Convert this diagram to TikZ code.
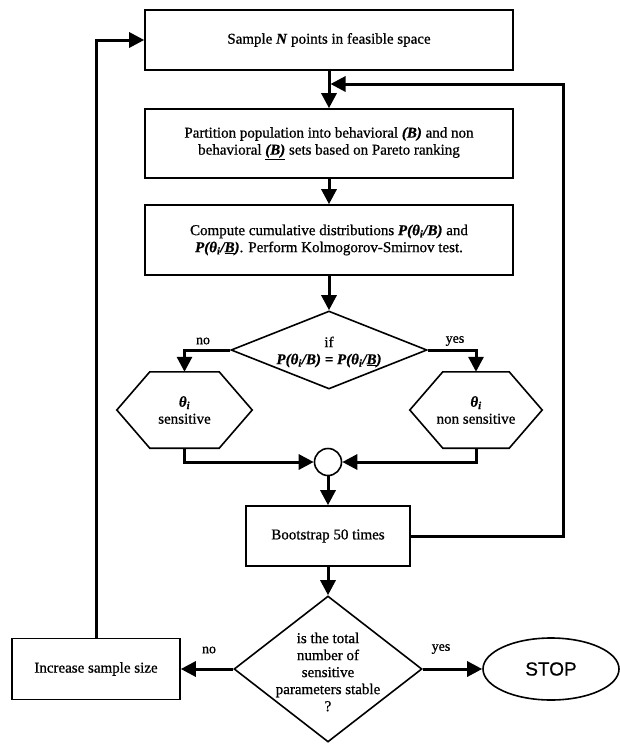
\documentclass[tikz,border=0pt]{standalone}
\usepackage{fontspec}
\setmainfont{Liberation Serif}[FakeBold=0.8]
\newfontfamily\arialfont{Liberation Sans}[FakeBold=0.6]
\usetikzlibrary{arrows.meta,shapes.geometric}
\tikzset{
  txt/.style={font=\fontsize{15}{17}\selectfont, inner sep=0pt, align=center},
  procbox/.style={txt, draw, line width=1.6pt},
  dia/.style={diamond, draw, line width=1.6pt, inner sep=0pt},
  hexn/.style={txt, minimum height=76pt},
  shapeline/.style={line width=1.6pt, line join=miter},
  lab/.style={font=\fontsize{14}{16}\selectfont, inner sep=0pt},
  conn/.style={line width=3pt, -{Triangle[length=15pt,width=15pt]}}
}
\newcommand{\thi}{θ\textsubscript{i}}
\newcommand{\bit}[1]{\textbf{\textit{#1}}}
\begin{document}
\begin{tikzpicture}[x=1pt,y=-1pt]
\useasboundingbox (0,0) rectangle (620,744);

\node[procbox, minimum width=368pt, minimum height=60pt] (b1) at (329,40)
  {Sample \bit{N} points in feasible space};
\node[procbox, minimum width=368pt, minimum height=69pt] (b2) at (329,143.5)
  {Partition population into behavioral \bit{(B)} and non\\
   behavioral \underline{\bit{(B)}} sets based on Pareto ranking};
\node[procbox, minimum width=368pt, minimum height=70pt] (b3) at (329,240)
  {Compute cumulative distributions \bit{P(\thi/B)} and\\
   \bit{P(\thi/\underline{B})}. Perform Kolmogorov-Smirnov test.};

\node[dia, minimum width=196pt, minimum height=78pt] (d1) at (329,350) {};
\node[txt] (d1t) at (329,352)
  {if\\ \bit{P(\thi/B) = P(\thi/\underline{B})}};

\node[hexn, minimum width=135pt] (hl) at (184.5,410) {\bit{\thi}\\ sensitive};
\draw[shapeline] (hl.west) -- ([xshift=33pt]hl.north west) -- ([xshift=-33pt]hl.north east)
  -- (hl.east) -- ([xshift=-33pt]hl.south east) -- ([xshift=33pt]hl.south west) -- cycle;
\node[hexn, minimum width=132pt] (hr) at (476,410) {\bit{\thi}\\ non sensitive};
\draw[shapeline] (hr.west) -- ([xshift=33pt]hr.north west) -- ([xshift=-33pt]hr.north east)
  -- (hr.east) -- ([xshift=-33pt]hr.south east) -- ([xshift=33pt]hr.south west) -- cycle;

\node[circle, draw, line width=1.6pt, minimum size=27pt, inner sep=0pt] (c) at (328,462) {};

\node[procbox, minimum width=164pt, minimum height=60pt] (bs) at (328,536) {Bootstrap 50 times};

\node[dia, minimum width=188pt, minimum height=146pt] (d2) at (328,669) {};
\node[txt] (d2t) at (328,672)
  {is the total\\ number of\\ sensitive\\ parameters stable\\ ?};

\node[procbox, minimum width=168pt, minimum height=61pt] (inc) at (96,669) {Increase sample size};
\node[ellipse, draw, line width=1.6pt, minimum width=136pt, minimum height=62pt, inner sep=0pt,
  font=\arialfont\fontsize{19}{21}\selectfont] (stop) at (551,669) {STOP};

\node[lab] (no1) at (203,341) {no};
\node[lab] (yes1) at (455,341) {yes};
\node[lab] (no2) at (209,650) {no};
\node[lab] (yes2) at (441,649) {yes};

\coordinate (lp) at (563,84);
\coordinate (j1) at (330.5,84);

\draw[conn] (b1.south) -- (b2.north);
\draw[conn] (b2.south) -- (b3.north);
\draw[conn] (b3.south) -- (d1.north);
\draw[conn] (d1.west) -| (hl.north);
\draw[conn] (d1.east) -| (hr.north);
\draw[conn] (hl.south) |- (c.west);
\draw[conn] (hr.south) |- (c.east);
\draw[conn] (c.south) -- (bs.north);
\draw[conn] (bs.south) -- (d2.north);
\draw[conn] (d2.west) -- (inc.east);
\draw[conn] (d2.east) -- (stop.west);
\draw[conn] (inc.north) |- (b1.west);
\draw[conn] (bs.east) -| (lp) -- (j1);
\end{tikzpicture}
\end{document}
